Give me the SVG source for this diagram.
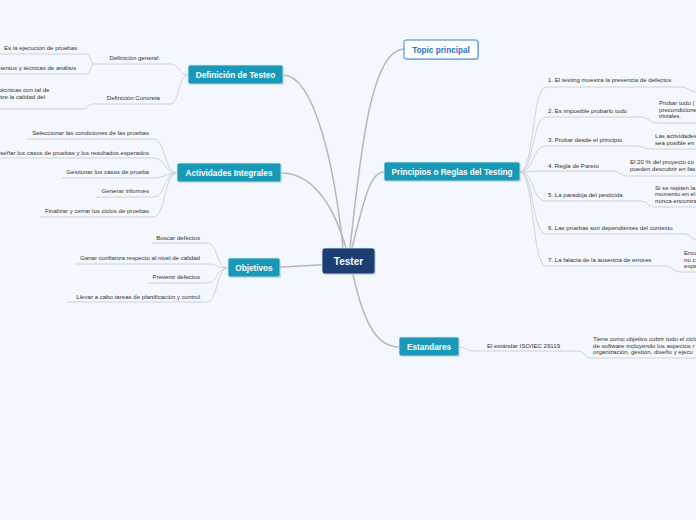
<svg xmlns="http://www.w3.org/2000/svg" width="696" height="520" viewBox="0 0 696 520">
<style>
.t{font-family:"Liberation Sans",Arial,sans-serif;font-size:6.1px;fill:#333}
.e{text-anchor:end}
.n{font-family:"Liberation Sans",Arial,sans-serif;font-weight:bold;font-size:8.2px;fill:#fff;text-anchor:middle}
.box{fill:#1a98b7;stroke:#d9eef4;stroke-width:0.8}
.sh{fill:#9aa3b0;opacity:0.45}
.l{fill:none;stroke:#c9cdd5;stroke-width:0.9}
.m{fill:none;stroke:#b3b7bf;stroke-width:1.5}
</style>
<rect width="696" height="520" fill="#f4f7fe"/>
<g id="connectors">
<path class="m" d="M283,75 C315,75 335,170 343,248"/>
<path class="m" d="M281,173 C310,173 332,200 346,248"/>
<path class="m" d="M280,267 C300,267 308,265 322,265"/>
<path class="m" d="M350,248 C360,160 370,49 404,49"/>
<path class="m" d="M352,248 C364,200 370,172 384,172"/>
<path class="m" d="M353,274 C365,330 380,347 399,347"/>
<path class="l" d="M188,75 C178,75 180,64 170,64 H95"/>
<path class="l" d="M188,75 C178,75 180,104 170,104 H92"/>
<path class="l" d="M95,64 C90,64 92,54 85,54 H0"/>
<path class="l" d="M95,64 C90,64 92,74 85,74 H0"/>
<path class="l" d="M92,104 C88,104 88,109 84,109 H0"/>
<path class="l" d="M177,173 C164,173 166,139 153,139 H27"/>
<path class="l" d="M177,173 C164,173 166,158 153,158 H0"/>
<path class="l" d="M177,173 C164,173 166,178 153,178 H62"/>
<path class="l" d="M177,173 C164,173 166,197 153,197 H97"/>
<path class="l" d="M177,173 C164,173 166,217 153,217 H40"/>
<path class="l" d="M228,268 C216,268 218,243 207,243 H152"/>
<path class="l" d="M228,268 C216,268 218,264 207,264 H74"/>
<path class="l" d="M228,268 C216,268 218,283 207,283 H148"/>
<path class="l" d="M228,268 C216,268 218,302 207,302 H67"/>
<path class="l" d="M520,172 C534,172 532,87 546,87 H680 C688,87 690,92 696,92"/>
<path class="l" d="M520,172 C534,172 532,117 546,117 H640 C650,117 648,123 658,123 H696"/>
<path class="l" d="M520,172 C534,172 532,146 546,146 H635 C644,146 643,149 652,149 H696"/>
<path class="l" d="M520,172 C534,172 532,171 546,171 H612 C620,171 620,176 628,176 H696"/>
<path class="l" d="M520,172 C534,172 532,201 546,201 H640 C648,201 647,207 655,207 H696"/>
<path class="l" d="M520,172 C534,172 532,234 546,234 H684 C690,234 692,239 696,240"/>
<path class="l" d="M520,172 C534,172 532,266 546,266 H665 C673,266 673,272 681,272 H696"/>
<path class="l" d="M459,347 C466,347 466,351 474,351 H578 C586,351 584,358 592,358 H696"/>
</g>
<g id="tester">
<rect x="323" y="249" width="53" height="26" rx="3" class="sh"/>
<rect x="322" y="248" width="53" height="26" rx="3" fill="#1c3f73" stroke="#dfe6f0" stroke-width="0.8"/>
<text x="348.5" y="264.5" class="n" style="font-size:10px">Tester</text>
</g>
<g id="definicion">
<rect x="189" y="66" width="95" height="19" rx="2" class="sh"/>
<rect x="188" y="65" width="95" height="19" rx="2" class="box"/>
<text x="235.5" y="77.5" class="n">Definición de Testeo</text>
<text x="160" y="60" class="t e">Definición general:</text>
<text x="4" y="50" class="t">Es la ejecución de pruebas</text>
<text x="-3" y="70" class="t">mentos y técnicas de análisis</text>
<text x="-1" y="92" class="t">técnicas con tal de</text>
<text x="-1" y="99" class="t">bre la calidad del</text>
<text x="160" y="100" class="t e">Definición Concreta</text>
</g>
<g id="actividades">
<rect x="178" y="164" width="104" height="19" rx="2" class="sh"/>
<rect x="177" y="163" width="104" height="19" rx="2" class="box"/>
<text x="229" y="175.8" class="n">Actividades Integrales</text>
<text x="149" y="135" class="t e">Seleccionar las condiciones de las pruebas</text>
<text x="149" y="155" class="t e">Diseñar los casos de pruebas y los resultados esperados</text>
<text x="149" y="174" class="t e">Gestionar los casos de prueba</text>
<text x="149" y="193" class="t e">Generar informes</text>
<text x="149" y="213" class="t e">Finalizar y cerrar los ciclos de pruebas</text>
</g>
<g id="objetivos">
<rect x="229" y="259" width="52" height="19" rx="2" class="sh"/>
<rect x="228" y="258" width="52" height="19" rx="2" class="box"/>
<text x="254" y="270.8" class="n">Objetivos</text>
<text x="200" y="240" class="t e">Buscar defectos</text>
<text x="200" y="260" class="t e">Ganar confianza respecto al nivel de calidad</text>
<text x="200" y="279" class="t e">Prevenir defectos</text>
<text x="200" y="299" class="t e">Llevar a cabo tareas de planificación y control</text>
</g>
<g id="topic">
<rect x="405" y="41" width="74" height="19" rx="2" class="sh"/>
<rect x="404" y="40" width="74" height="19" rx="2" fill="#fff" stroke="#2a84dc" stroke-width="1"/>
<text x="441" y="52.8" class="n" style="fill:#1f72c8">Topic principal</text>
</g>
<g id="principios">
<rect x="385" y="163" width="136" height="19" rx="2" class="sh"/>
<rect x="384" y="162" width="136" height="19" rx="2" class="box"/>
<text x="452" y="174.8" class="n">Principios o Reglas del Testing</text>
<text x="548" y="82" class="t">1. El testing muestra la presencia de defectos</text>
<text x="548" y="113" class="t">2. Es imposible probarlo todo</text>
<text x="659" y="105" class="t">Probar todo (</text>
<text x="659" y="111.5" class="t">precondiciones</text>
<text x="659" y="118" class="t">triviales.</text>
<text x="548" y="142" class="t">3. Probar desde el principio</text>
<text x="655" y="138" class="t">Las actividades</text>
<text x="655" y="144.5" class="t">sea posible en</text>
<text x="548" y="168" class="t">4. Regla de Pareto</text>
<text x="630" y="164" class="t">El 20 % del proyecto co</text>
<text x="630" y="170.5" class="t">pueden descubrir en fas</text>
<text x="548" y="197" class="t">5. La paradoja del pesticida</text>
<text x="655" y="189.5" class="t">Si se repiten la</text>
<text x="655" y="196" class="t">momento en el</text>
<text x="655" y="202.5" class="t">nunca encontra</text>
<text x="548" y="230" class="t">6. Las pruebas son dependientes del contexto</text>
<text x="548" y="262" class="t">7. La falacia de la ausencia de errores</text>
<text x="684" y="255" class="t">Enco</text>
<text x="684" y="261.5" class="t">no c</text>
<text x="684" y="268" class="t">expe</text>
</g>
<g id="estandares">
<rect x="400" y="338" width="60" height="19" rx="2" class="sh"/>
<rect x="399" y="337" width="60" height="19" rx="2" class="box"/>
<text x="429" y="349.8" class="n">Estandares</text>
<text x="487" y="348" class="t">El estándar ISO/IEC 29119</text>
<text x="593" y="341" class="t">Tiene como objetivo cubrir todo el ciclo</text>
<text x="593" y="347.5" class="t">de software incluyendo los aspectos r</text>
<text x="593" y="354" class="t">organización, gestión, diseño y ejecu</text>
</g>
</svg>
